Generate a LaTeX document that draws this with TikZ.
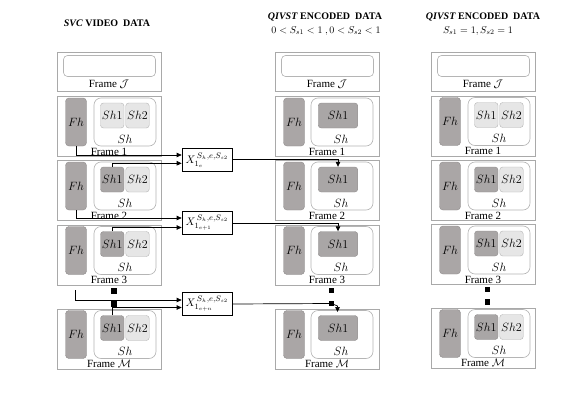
\documentclass[tikz,border=0pt]{standalone}
\usepackage{fontspec}
\setmainfont{Liberation Serif}
\usetikzlibrary{arrows.meta}
\definecolor{framegray}{HTML}{A9A9A9}
\definecolor{fhgray}{HTML}{AAA6A6}
\definecolor{shdark}{HTML}{A9A6A6}
\definecolor{shlight}{HTML}{E6E6E6}
\definecolor{rimgray}{HTML}{B5B5B5}

\tikzset{
  outer/.style={draw=framegray, line width=0.7pt, fill=white, minimum width=104, minimum height=60, anchor=north west, inner sep=0},
  outerJ/.style={outer, minimum height=39},
  innerJ/.style={draw=rimgray, line width=0.6pt, rounded corners=4pt, minimum width=92, minimum height=21, inner sep=0},
  fhbox/.style={draw=fhgray!85!black, fill=fhgray, line width=0.4pt, rounded corners=3.5pt, minimum width=21, minimum height=48, inner sep=0, font=\fontsize{12}{14}\selectfont},
  shbox/.style={draw=rimgray, line width=0.6pt, fill=white, rounded corners=7pt, minimum width=62, minimum height=48, inner sep=0},
  shdk/.style={draw=shdark!85!black, fill=shdark, line width=0.4pt, rounded corners=3pt, minimum width=23.5, minimum height=25, inner sep=0, font=\fontsize{12}{14}\selectfont},
  shlt/.style={shdk, draw=rimgray, fill=shlight},
  shwide/.style={shdk, minimum width=39.5},
  shtext/.style={anchor=base, inner sep=0, font=\fontsize{12}{14}\selectfont},
  flabel/.style={anchor=base, inner sep=0, font=\fontsize{11}{13}\selectfont},
  xbox/.style={draw=black, line width=0.7pt, fill=white, minimum width=50, minimum height=23.5, inner sep=0, font=\fontsize{11}{13}\selectfont},
  arr/.style={draw=black, line width=0.7pt, -{Triangle[length=5pt,width=4.5pt]}},
  dot/.style={fill=black, draw=none, minimum size=5.5, inner sep=0},
  title/.style={inner sep=0, font=\fontsize{10}{12}\selectfont\bfseries},
  subtitle/.style={inner sep=0, font=\fontsize{10}{12}\selectfont}
}

\newcommand\myframeJ[3]{%
  \begin{scope}[shift={(#2,#3)}]
    \node[outerJ] (#1) at (0,0) {};
    \node[innerJ] (#1in) at (52.5,14) {};
    \node[flabel] (#1lab) at (52,35) {Frame $\mathcal{J}$};
  \end{scope}}

\newcommand\myframeA[5]{%
  \begin{scope}[shift={(#2,#3)}]
    \node[outer] (#1) at (0,0) {};
    \node[fhbox] (#1fh) at (19,26) {$Fh$};
    \node[shbox] (#1sh) at (68,26) {};
    \node[#4] (#1sh1) at (55.25,19.5) {$Sh1$};
    \node[shlt] (#1sh2) at (80.5,19.5) {$Sh2$};
    \node[shtext] (#1shl) at (68,47) {$Sh$};
    \node[flabel] (#1lab) at (52,59) {#5};
  \end{scope}}

\newcommand\myframeB[4]{%
  \begin{scope}[shift={(#2,#3)}]
    \node[outer] (#1) at (0,0) {};
    \node[fhbox] (#1fh) at (19,26) {$Fh$};
    \node[shbox] (#1sh) at (67,26) {};
    \node[shwide] (#1sh1) at (63,19.5) {$Sh1$};
    \node[shtext] (#1shl) at (66,47) {$Sh$};
    \node[flabel] (#1lab) at (52,59) {#4};
  \end{scope}}

\begin{document}
\begin{tikzpicture}[x=1pt,y=-1pt]
\useasboundingbox (0,0) rectangle (580,404);

% titles
\node[title] (t1) at (107,23) {\textit{SVC} VIDEO\ \ DATA};
\node[title] (t2) at (325,17) {\textit{QIVST} ENCODED\ \ DATA};
\node[subtitle] (t2b) at (326,31) {$0 < S_{s1} < 1\ ,0 < S_{s2} < 1$};
\node[title] (t3) at (483,17) {\textit{QIVST} ENCODED\ \ DATA};
\node[subtitle] (t3b) at (478,31) {$S_{s1}=1, S_{s2}=1$};

% left column
\myframeJ{la}{57}{52}
\myframeA{lb}{57}{96}{shlt}{Frame 1}
\myframeA{lc}{57}{160}{shdk}{Frame 2}
\myframeA{ld}{57}{224.5}{shdk}{Frame 3}
\myframeA{le}{57}{308.5}{shdk}{Frame $\mathcal{M}$}

% middle column
\myframeJ{ma}{275}{52}
\myframeB{mb}{275}{96}{Frame 1}
\myframeB{mc}{275}{160}{Frame 2}
\myframeB{md}{275}{224.5}{Frame 3}
\myframeB{me}{275}{308.5}{Frame $\mathcal{M}$}

% right column
\myframeJ{ra}{431}{52}
\myframeA{rb}{431}{95.5}{shlt}{Frame 1}
\myframeA{rc}{431}{160}{shdk}{Frame 2}
\myframeA{rd}{431}{224}{shdk}{Frame 3}
\myframeA{re}{431}{307.5}{shdk}{Frame $\mathcal{M}$}

% X boxes
\node[xbox] (xa) at (207,160) {$X_{1_e}^{\,S_h,e,S_{s2}}$};
\node[xbox] (xb) at (207,223) {$X_{1_{e+1}}^{\,S_h,e,S_{s2}}$};
\node[xbox] (xc) at (207,304) {$X_{1_{e+n}}^{\,S_h,e,S_{s2}}$};

% dots
\node[dot] (ld1) at (114,291) {};
\node[dot] (ld2) at (114,304) {};
\node[dot] (md1) at (331.5,290.5) {};
\node[dot] (md2) at (331.5,303.5) {};
\node[dot] (rd1) at (487.5,289.5) {};
\node[dot] (rd2) at (487.5,302) {};

% inputs
\draw[arr] (lbfh.south) |- ([yshift=5pt]xa.west);
\draw[arr] (lcsh1.north) |- ([yshift=-3.3pt]xa.west);
\draw[arr] (lcfh.south) |- ([yshift=5pt]xb.west);
\draw[arr] (ldsh1.north) |- ([yshift=-4.5pt]xb.west);
\coordinate (s5) at (75,290);
\draw[arr] (s5) |- ([yshift=4pt]xc.west);
\draw[arr] (lesh1.north) |- ([yshift=-3.5pt]xc.west);

% outputs
\draw[arr] ([yshift=1pt]xa.east) -| (mcsh1.north);
\draw[arr] (xb.east) -| (mdsh1.north);
\coordinate (jog) at (337.5,306);
\coordinate (tipm) at (337.5,312);
\draw[arr] (xc.east) -- (md2.center) -- (jog) -- (tipm);
\end{tikzpicture}
\end{document}
